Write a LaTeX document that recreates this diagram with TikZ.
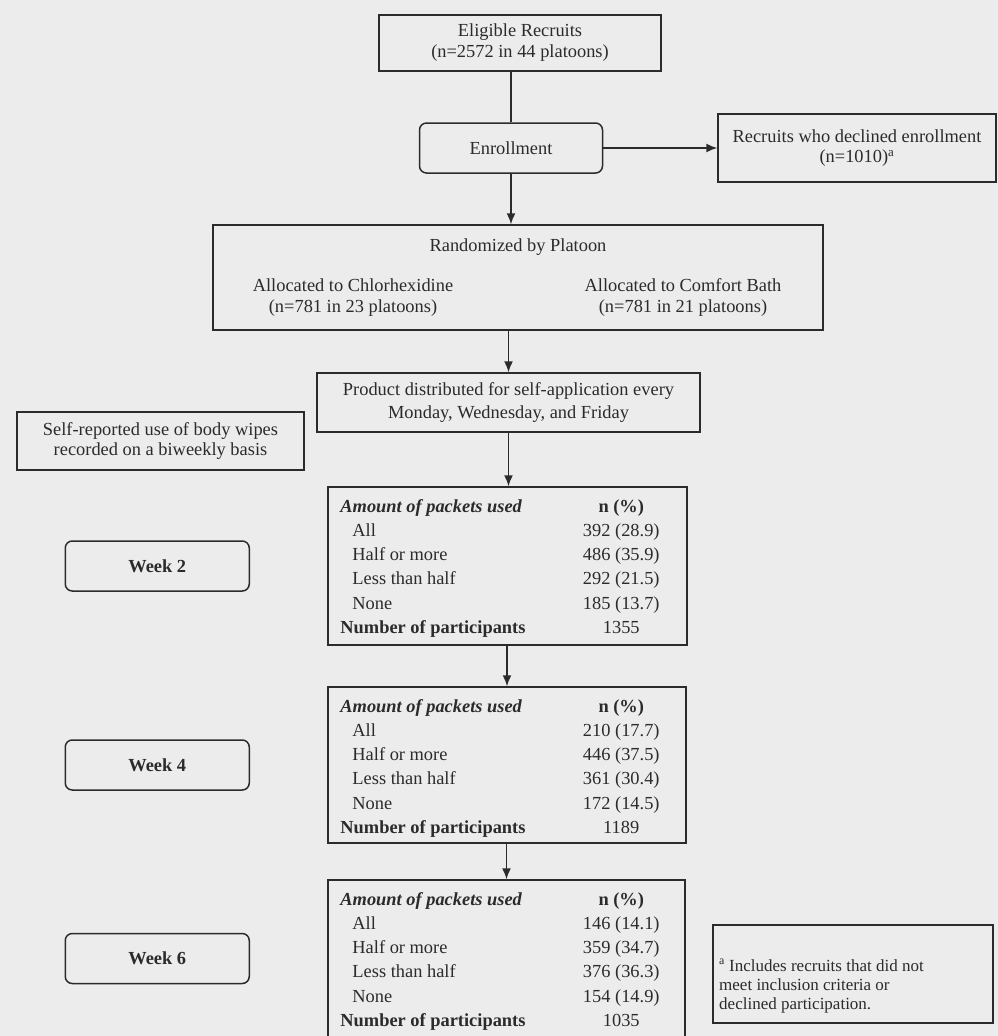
\documentclass[tikz,border=0pt]{standalone}
\usepackage{fontspec}
\setmainfont{Liberation Serif}
\usetikzlibrary{arrows.meta,calc}
\definecolor{ink}{HTML}{2B2B2B}
\definecolor{paper}{HTML}{ECECED}
\newcommand\myfs{\fontsize{18.4}{21}\selectfont}
\newcommand\packrows[7]{%
  \node[lbl,font=\myfs\bfseries\itshape] (#1-h) at ($(#1.north west)+(13,26)$) {Amount of packets used};
  \node[num,font=\myfs\bfseries] (#1-hn) at ($(#1.north west)+(294,26)$) {n (\%)};
  \node[lbl] (#1-a) at ($(#1.north west)+(25,50.2)$) {All};
  \node[num] (#1-an) at ($(#1.north west)+(294,50.2)$) {#2};
  \node[lbl] (#1-b) at ($(#1.north west)+(25,74.4)$) {Half or more};
  \node[num] (#1-bn) at ($(#1.north west)+(294,74.4)$) {#3};
  \node[lbl] (#1-c) at ($(#1.north west)+(25,98.6)$) {Less than half};
  \node[num] (#1-cn) at ($(#1.north west)+(294,98.6)$) {#4};
  \node[lbl] (#1-d) at ($(#1.north west)+(25,122.8)$) {None};
  \node[num] (#1-dn) at ($(#1.north west)+(294,122.8)$) {#5};
  \node[lbl,font=\myfs\bfseries] (#1-e) at ($(#1.north west)+(13,147)$) {Number of participants};
  \node[num] (#1-en) at ($(#1.north west)+(294,147)$) {#6};
  \node[wk] (#7) at ($(#1.west)+(-170,0)$) {};
}
\begin{document}
\begin{tikzpicture}[x=1pt,y=-1pt,
  box/.style={draw=ink, line width=1.5pt, inner sep=0pt, align=center, text=ink, font=\myfs},
  rbox/.style={box, rounded corners=7pt},
  wk/.style={rbox, minimum width=184pt, minimum height=50pt},
  arr/.style={-{Latex[length=11pt,width=9pt]}, draw=ink, line width=1.5pt},
  con/.style={draw=ink, line width=1.5pt},
  lbl/.style={anchor=base west, inner sep=0pt, text=ink, font=\myfs},
  num/.style={anchor=base, inner sep=0pt, text=ink, font=\myfs},
  txt/.style={inner sep=0pt, align=center, text=ink, font=\myfs}
]
\fill[paper] (0,0) rectangle (998,1036);
\useasboundingbox (0,0) rectangle (998,1036);

% top part
\node[box, minimum width=282pt, minimum height=56pt] (elig) at (520,43) {Eligible Recruits\\(n=2572 in 44 platoons)};
\node[rbox, minimum width=183pt, minimum height=50pt] (enr) at (511,148) {Enrollment};
\node[box, minimum width=278pt, minimum height=68pt, font=\fontsize{18.4}{20}\selectfont] (decl) at (857,148) {Recruits who declined enrollment\\(n=1010)\textsuperscript{a}};
\node[box, minimum width=610pt, minimum height=105pt] (rand) at (518,277.5) {};
\node[num] (randt) at (518,251) {Randomized by Platoon};
\node[txt] (chx) at (353,297.5) {Allocated to Chlorhexidine\\(n=781 in 23 platoons)};
\node[txt] (cmf) at (683,297.5) {Allocated to Comfort Bath\\(n=781 in 21 platoons)};
\node[box, minimum width=383pt, minimum height=59pt, font=\fontsize{18.4}{23}\selectfont] (prod) at (508.5,402.5) {Product distributed for self-application every\\Monday, Wednesday, and Friday};
\node[box, minimum width=287pt, minimum height=58pt, font=\fontsize{18.4}{20}\selectfont] (self) at (160.5,441) {Self-reported use of body wipes\\recorded on a biweekly basis};

% tables
\node[box, minimum width=359pt, minimum height=158pt] (t1) at (507.5,566) {};
\node[box, minimum width=358pt, minimum height=156pt] (t2) at (507,765) {};
\node[box, minimum width=357pt, minimum height=157pt] (t3) at (506.5,958.5) {};
\packrows{t1}{392 (28.9)}{486 (35.9)}{292 (21.5)}{185 (13.7)}{1355}{w2}
\packrows{t2}{210 (17.7)}{446 (37.5)}{361 (30.4)}{172 (14.5)}{1189}{w4}
\packrows{t3}{146 (14.1)}{359 (34.7)}{376 (36.3)}{154 (14.9)}{1035}{w6}
\node[txt, font=\myfs\bfseries] (w2t) at (w2) {Week 2};
\node[txt, font=\myfs\bfseries] (w4t) at (w4) {Week 4};
\node[txt, font=\myfs\bfseries] (w6t) at (w6) {Week 6};

% footnote
\node[box, minimum width=280pt, minimum height=98pt] (foot) at (853,974) {};
\node[anchor=north west, inner sep=0pt, align=left, text=ink, font=\fontsize{17}{19}\selectfont] (foott) at (719,959) {\textsuperscript{a} Includes recruits that did not\\meet inclusion criteria or\\declined participation.};

% connectors
\draw[con] (elig.south -| enr.north) -- (enr.north);
\draw[arr] (enr.east) -- (decl.west);
\draw[arr] (enr.south) -- (enr.south |- rand.north);
\draw[arr] (prod.north |- rand.south) -- (prod.north);
\draw[arr] (prod.south) -- (prod.south |- t1.north);
\draw[arr] (t2.north |- t1.south) -- (t2.north);
\draw[arr] (t3.north |- t2.south) -- (t3.north);
\end{tikzpicture}
\end{document}
